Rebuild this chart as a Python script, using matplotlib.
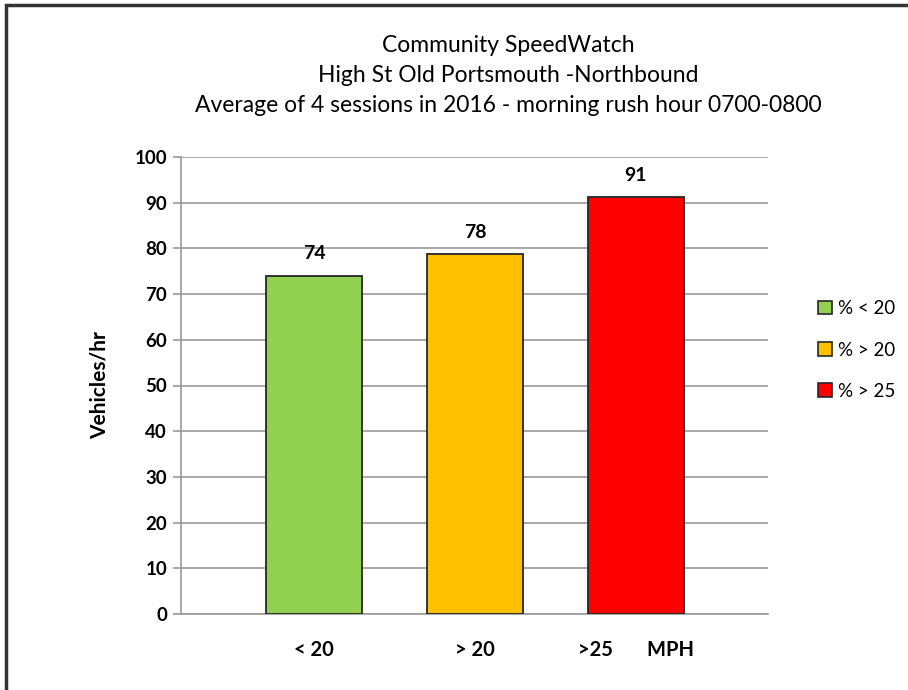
import matplotlib.pyplot as plt
from matplotlib.patches import Rectangle, Patch

# === Data ===
categories = ["< 20", "> 20", ">25       MPH"]
vehicles_per_hr = [74.0, 78.7, 91.2]
value_labels = ["74", "78", "91"]
legend_labels = ["% < 20", "% > 20", "% > 25"]
bar_colors = ["#92D050", "#FFC000", "#FF0000"]
y_ticks = [0, 10, 20, 30, 40, 50, 60, 70, 80, 90, 100]

plt.rcParams['font.family'] = ['Lato', 'DejaVu Sans']

W, H = 908, 690
fig = plt.figure(figsize=(W / 100, H / 100), dpi=100)
ax = fig.add_axes([181 / W, 1 - 614 / H, (768 - 181) / W, (614 - 157) / H])

x = list(range(len(categories)))
bars = ax.bar(x, vehicles_per_hr, width=0.6, color=bar_colors,
              edgecolor="#262626", linewidth=1.3, zorder=3)

for xi, v, lab in zip(x, vehicles_per_hr, value_labels):
    ax.text(xi, v + 3, lab, ha="center", va="bottom", fontsize=14, fontweight="bold")

ax.set_ylim(0, 100)
ax.set_xlim(-0.826, 2.82)
ax.set_yticks(y_ticks)
ax.set_yticklabels([str(t) for t in y_ticks], fontsize=13.5, fontweight="bold")
ax.set_xticks(x)
ax.set_xticklabels(categories, fontsize=14.5, fontweight="bold")
ax.tick_params(axis="x", length=0, pad=19)
ax.tick_params(axis="y", length=6, color="#999999", width=1.2, pad=4)
ax.yaxis.grid(True, color="#999999", linewidth=1.2, zorder=0)
for side in ["top", "right"]:
    ax.spines[side].set_visible(False)
ax.spines["left"].set_color("#999999")
ax.spines["bottom"].set_color("#999999")
ax.spines["left"].set_linewidth(1.2)
ax.spines["bottom"].set_linewidth(1.2)

ax.set_ylabel("Vehicles/hr", fontsize=15, fontweight="bold", labelpad=18)

fig.text(508 / W, 1 - 45 / H, "Community SpeedWatch", ha="center", va="center", fontsize=16.5)
fig.text(508 / W, 1 - 75 / H, "High St Old Portsmouth -Northbound", ha="center", va="center", fontsize=16.5)
fig.text(508 / W, 1 - 105 / H, "Average of 4 sessions in 2016 - morning rush hour 0700-0800",
         ha="center", va="center", fontsize=16.5)

handles = [Patch(facecolor=c, edgecolor="#262626", linewidth=1.2) for c in bar_colors]
fig.legend(handles, legend_labels, loc="center left", bbox_to_anchor=(818 / W, 1 - 350 / H),
           frameon=False, fontsize=13.5, handlelength=0.75, handleheight=0.75,
           handletextpad=0.3, labelspacing=1.3, borderaxespad=0, borderpad=0)

# outer frame (only top and left visible)
fig.patches.append(Rectangle((6 / W, -0.05), 1.1, 1 - 5 / H + 0.05, transform=fig.transFigure,
                             fill=False, edgecolor="#333333", linewidth=2.5))

fig.savefig("out.png", dpi=100)
